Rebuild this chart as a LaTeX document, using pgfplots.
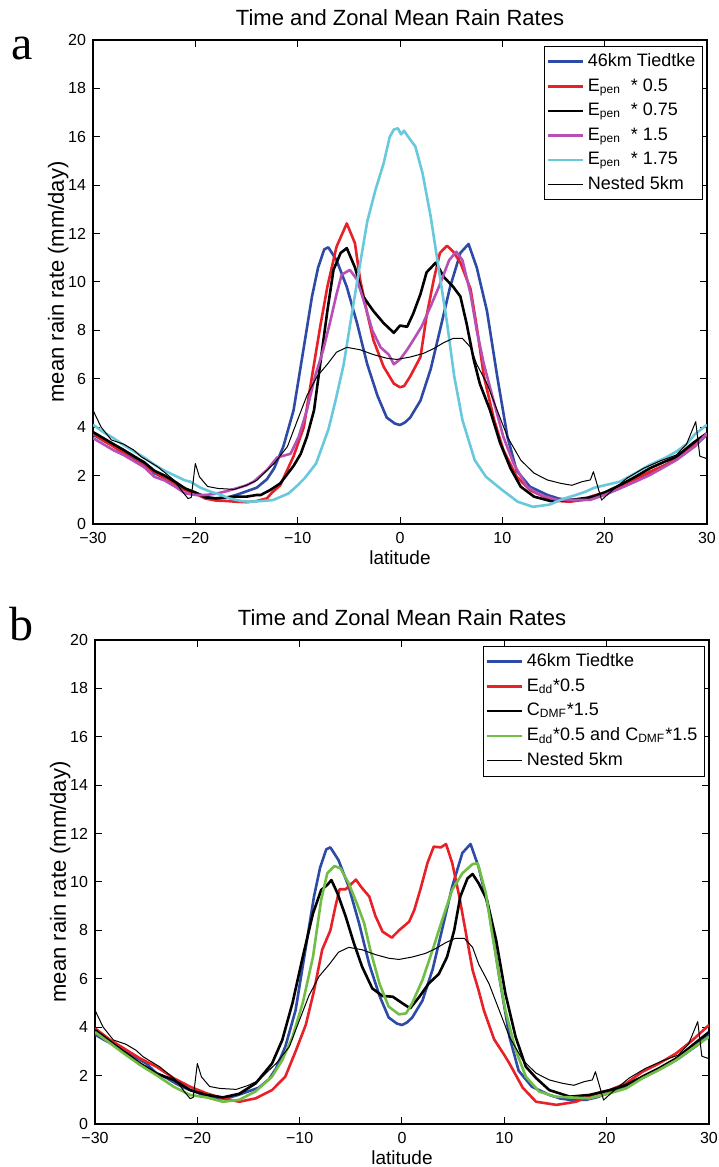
\documentclass[border=0pt]{standalone}
\usepackage{fontspec}
\setmainfont{Liberation Sans}
\newfontfamily\seriffont{Liberation Serif}
\usepackage{pgfplots}
\pgfplotsset{compat=1.18}
\definecolor{cblue}{RGB}{44,74,166}
\definecolor{cred}{RGB}{232,32,40}
\definecolor{cmag}{RGB}{184,80,180}
\definecolor{ccyan}{RGB}{104,200,220}
\definecolor{cgreen}{RGB}{112,190,68}
\pgfplotsset{
 rainax/.style={
  scale only axis, width=307pt, height=242pt,
  xmin=-30, xmax=30, ymin=0, ymax=20,
  xtick={-30,-20,...,30}, xticklabels={−30,−20,−10,0,10,20,30},
  ytick={0,2,...,20},
  tick align=inside, major tick length=3.5pt, tick pos=both,
  every tick/.style={black, line width=0.5pt},
  axis line style={line width=0.6pt},
  tick label style={font=\fontsize{8}{9}\selectfont},
  xticklabel style={yshift=-0.5pt},
  /pgf/number format/assume math mode=true,
  xlabel style={font=\fontsize{9.5}{11}\selectfont, yshift=3pt},
  ylabel style={font=\fontsize{11}{12}\selectfont},
  ylabel shift=-7pt,
  xlabel=latitude, ylabel={mean rain rate (mm/day)},
  title={Time and Zonal Mean Rain Rates},
  title style={font=\fontsize{11}{12}\selectfont, yshift=-2.3pt},
  legend style={at={(0.993,0.987)}, anchor=north east, draw=black, font=\fontsize{9}{10}\selectfont, inner sep=1.5pt, row sep=0.5pt},
  legend cell align=left,
  every axis plot/.append style={line join=round},
 },
 thk/.style={line width=1.3pt},
 thn/.style={line width=0.5pt, black},
}
\begin{document}
\begin{tikzpicture}[x=1pt,y=1pt]
\useasboundingbox (0,0) rectangle (359,583.5);
% ---------------- panel a
\begin{axis}[rainax, at={(46.5pt,321.5pt)}, anchor=south west]
\addplot[thk, cblue] coordinates {(-30,3.7)(-29,3.45)(-28,3.25)(-27,3.0)(-26,2.75)(-25,2.5)(-24,2.1)(-23,1.9)(-22,1.65)(-21,1.45)(-20,1.3)(-19,1.12)(-18,1.05)(-17,1.08)(-16,1.2)(-15,1.35)(-14,1.5)(-13,1.85)(-12.3,2.3)(-11.4,3.2)(-10.4,4.7)(-9.4,7.3)(-8.6,9.4)(-8.0,10.6)(-7.4,11.35)(-7.0,11.43)(-6.2,10.9)(-5.2,9.8)(-4.2,8.3)(-3.2,6.6)(-2.2,5.3)(-1.3,4.4)(-0.5,4.15)(0,4.09)(0.5,4.2)(1,4.4)(2,5.1)(3,6.4)(3.9,8.0)(4.9,9.8)(5.9,11.2)(6.7,11.57)(7.5,10.6)(8.5,8.8)(9.5,6.1)(10.5,3.6)(11.4,2.2)(12.7,1.54)(14.4,1.2)(15.5,1.05)(16.6,0.99)(18,1.0)(19,1.1)(20,1.25)(21.5,1.5)(23,1.8)(24.4,2.1)(26,2.45)(27,2.7)(28,3.0)(29,3.3)(30,3.7)};
\addlegendentry{46km Tiedtke}
\addplot[thk, cred] coordinates {(-30,3.75)(-29,3.45)(-28,3.2)(-27,2.92)(-26,2.65)(-25,2.4)(-24,2.15)(-23,1.9)(-22,1.65)(-21,1.4)(-20,1.25)(-19,1.05)(-18,0.97)(-17,0.95)(-16,0.92)(-15,0.9)(-14,0.95)(-13,1.06)(-12.5,1.3)(-11.7,1.6)(-10.4,2.8)(-9.4,4.0)(-8.6,6.1)(-7.8,8.15)(-7.1,9.8)(-6.2,11.46)(-5.2,12.42)(-4.4,11.6)(-3.9,10.1)(-3.2,8.7)(-2.6,7.6)(-1.6,6.5)(-0.6,5.8)(0,5.65)(0.4,5.7)(1,6.1)(2,6.9)(2.6,8.6)(3.3,10.1)(3.9,11.2)(4.6,11.5)(5.2,11.25)(5.9,10.8)(6.9,9.7)(7.5,8.15)(8.2,6.1)(9.2,4.3)(10.1,3.06)(11.4,1.96)(12.7,1.4)(14.4,1.06)(15.5,0.95)(16.6,0.92)(18,1.0)(18.6,1.13)(20,1.3)(21.5,1.54)(23,1.85)(24.4,2.16)(26,2.45)(27,2.71)(28,3.0)(28.8,3.3)(30,3.7)};
\addlegendentry{E\textsubscript{pen}\ \ * 0.5}
\addplot[thk, black] coordinates {(-30,3.8)(-29,3.55)(-28,3.3)(-27,3.06)(-26,2.8)(-25,2.55)(-24,2.2)(-23,2.0)(-22,1.75)(-21,1.47)(-20,1.3)(-19,1.1)(-18,1.06)(-17,1.1)(-16,1.13)(-15,1.13)(-14,1.2)(-13.6,1.2)(-12.7,1.4)(-11.7,1.68)(-10.4,2.4)(-9.7,2.9)(-9.1,3.6)(-8.4,4.7)(-7.8,6.6)(-7.1,8.8)(-6.5,10.5)(-5.8,11.2)(-5.2,11.4)(-4.4,10.6)(-3.6,9.4)(-2.6,8.8)(-1.6,8.3)(-0.6,7.9)(0,8.2)(0.7,8.15)(1.3,8.7)(2,9.5)(2.6,10.4)(3.5,10.8)(4.3,10.2)(5.2,9.8)(5.9,9.4)(6.5,8.3)(7.2,6.8)(7.8,5.8)(8.8,4.7)(9.8,3.33)(10.8,2.3)(11.8,1.54)(13.1,1.13)(14.7,0.95)(16.6,0.99)(18.6,1.1)(20,1.3)(21.5,1.61)(23,1.95)(24.4,2.3)(26,2.6)(27,2.78)(28.8,3.4)(30,3.75)};
\addlegendentry{E\textsubscript{pen}\ \ * 0.75}
\addplot[thk, cmag] coordinates {(-30,3.55)(-29,3.3)(-28,3.05)(-27,2.85)(-26,2.6)(-25,2.35)(-24,1.95)(-23,1.8)(-22,1.55)(-21,1.27)(-20,1.2)(-19,1.2)(-18,1.25)(-17,1.35)(-16,1.47)(-15,1.6)(-14.3,1.75)(-13,2.23)(-12,2.75)(-10.7,2.9)(-9.9,3.6)(-9.1,4.7)(-8.3,6.1)(-7.5,7.2)(-6.8,8.4)(-6.2,9.5)(-5.7,10.3)(-4.9,10.5)(-4.2,10.1)(-3.6,9.3)(-2.7,8.0)(-1.9,7.3)(-1.1,7.0)(-0.6,6.6)(0,6.8)(0.7,7.2)(1.3,7.6)(2.1,8.15)(3,9.0)(3.9,9.9)(4.8,10.9)(5.5,11.25)(6.1,10.9)(6.9,9.5)(7.5,8.0)(8.2,6.6)(9.2,5.0)(10.1,3.6)(11.1,2.5)(12.4,1.54)(13.7,1.2)(15.3,1.0)(16.6,0.99)(18.6,1.0)(20,1.2)(21.5,1.47)(23,1.75)(24.4,2.02)(26,2.4)(27,2.64)(28.8,3.2)(30,3.75)};
\addlegendentry{E\textsubscript{pen}\ \ * 1.5}
\addplot[thk, ccyan] coordinates {(-30,4.1)(-29,3.8)(-28,3.55)(-27,3.26)(-26,3.0)(-25,2.75)(-24,2.45)(-23,2.2)(-22,2.0)(-21,1.8)(-20.5,1.75)(-19.5,1.5)(-18.6,1.35)(-17.5,1.2)(-16.7,1.06)(-15.5,0.95)(-14.7,0.92)(-13.5,0.95)(-12.4,0.99)(-10.9,1.26)(-10,1.6)(-9.3,1.9)(-8.2,2.5)(-7.0,3.9)(-6.3,5.1)(-5.5,6.6)(-4.7,8.7)(-3.9,10.75)(-3.2,12.5)(-2.4,13.8)(-1.6,14.9)(-1.0,16.0)(-0.6,16.3)(-0.2,16.35)(0.1,16.1)(0.4,16.25)(0.8,16.0)(1.5,15.6)(2.2,14.5)(3.0,12.7)(3.8,10.5)(4.6,8.3)(5.3,6.1)(6.1,4.3)(7.3,2.64)(8.4,1.95)(10,1.4)(11.5,0.92)(13,0.71)(14.6,0.8)(16.1,1.06)(17.2,1.2)(18.1,1.33)(19,1.5)(20,1.6)(21.5,1.75)(23,2.1)(24.4,2.44)(26,2.75)(27,2.99)(28,3.3)(28.8,3.7)(30,4.1)};
\addlegendentry{E\textsubscript{pen}\ \ * 1.75}
\addplot[thn] coordinates {(-30,4.7)(-29.2,4.0)(-28.2,3.47)(-27,3.3)(-26,3.05)(-25.3,2.78)(-23.7,2.37)(-22.1,1.82)(-21.2,1.3)(-20.7,1.05)(-20.4,1.1)(-20.0,2.5)(-19.6,1.95)(-18.8,1.55)(-17.8,1.47)(-16.2,1.43)(-15,1.6)(-14,1.8)(-13.3,2.1)(-12.3,2.5)(-11,3.2)(-10.1,4.2)(-9.1,5.3)(-8.1,6.1)(-7.1,6.6)(-6.2,7.1)(-5.2,7.3)(-3.9,7.2)(-2.6,7.0)(-1.3,6.85)(-0.3,6.8)(1,6.9)(2.3,7.05)(3.3,7.25)(4.3,7.5)(5.2,7.67)(6.1,7.67)(6.9,7.3)(7.5,6.6)(8.5,5.8)(9.5,4.7)(10.5,3.6)(11.8,2.64)(13.1,2.1)(14.4,1.82)(15.7,1.68)(16.8,1.6)(17.8,1.75)(18.6,1.82)(18.9,2.16)(19.7,0.99)(20.5,1.3)(22.2,1.9)(23.8,2.3)(25.4,2.6)(27.0,2.85)(28.0,3.3)(28.9,4.23)(29.3,2.8)(30,2.7)};
\addlegendentry{Nested 5km}
\end{axis}
% ---------------- panel b
\begin{axis}[rainax, at={(47.5pt,21.5pt)}, anchor=south west]
\addplot[thk, cblue] coordinates {(-30,3.7)(-29,3.45)(-28,3.25)(-27,3.0)(-26,2.75)(-25,2.5)(-24,2.1)(-23,1.9)(-22,1.65)(-21,1.45)(-20,1.3)(-19,1.12)(-18,1.05)(-17,1.08)(-16,1.2)(-15,1.35)(-14,1.5)(-13,1.85)(-12.3,2.3)(-11.4,3.2)(-10.4,4.7)(-9.4,7.3)(-8.6,9.4)(-8.0,10.6)(-7.4,11.35)(-7.0,11.43)(-6.2,10.9)(-5.2,9.8)(-4.2,8.3)(-3.2,6.6)(-2.2,5.3)(-1.3,4.4)(-0.5,4.15)(0,4.09)(0.5,4.2)(1,4.4)(2,5.1)(3,6.4)(3.9,8.0)(4.9,9.8)(5.9,11.2)(6.7,11.57)(7.5,10.6)(8.5,8.8)(9.5,6.1)(10.5,3.6)(11.4,2.2)(12.7,1.54)(14.4,1.2)(15.5,1.05)(16.6,0.99)(18,1.0)(19,1.1)(20,1.25)(21.5,1.5)(23,1.8)(24.4,2.1)(26,2.45)(27,2.7)(28,3.0)(29,3.3)(30,3.7)};
\addlegendentry{46km Tiedtke}
\addplot[thk, cred] coordinates {(-30,3.95)(-28.5,3.47)(-27.2,3.13)(-25.6,2.71)(-24,2.37)(-22.3,1.89)(-20.7,1.54)(-19.1,1.27)(-17.5,1.06)(-15.9,0.92)(-14.3,1.06)(-12.7,1.4)(-11.4,1.96)(-10.4,3.0)(-9.4,4.1)(-8.6,5.5)(-7.8,7.2)(-7.0,8.0)(-6.5,9.0)(-6.1,9.7)(-5.5,9.7)(-4.5,10.1)(-4.0,9.8)(-3.2,9.4)(-2.6,8.6)(-1.9,7.95)(-1.0,7.7)(-0.3,8.0)(0.7,8.36)(1.2,8.84)(1.8,9.7)(2.5,10.8)(3.1,11.46)(3.8,11.43)(4.3,11.57)(4.9,10.8)(5.6,9.4)(6.2,8.0)(6.9,6.36)(7.5,5.5)(8.0,4.7)(9.0,3.5)(10,2.85)(10.5,2.5)(11.8,1.5)(13.1,0.92)(15.1,0.79)(17,0.92)(18.6,1.2)(20.3,1.4)(21.9,1.68)(23.5,2.16)(25.1,2.5)(26.8,2.92)(28.4,3.47)(30,4.09)};
\addlegendentry{E\textsubscript{dd}*0.5}
\addplot[thk, black] coordinates {(-30,3.88)(-28.5,3.4)(-27.2,2.99)(-25.6,2.5)(-24,2.09)(-22.3,1.82)(-20.7,1.4)(-19.1,1.2)(-17.5,1.1)(-15.9,1.25)(-14.3,1.68)(-12.7,2.5)(-11.7,3.47)(-10.7,5.0)(-9.7,6.9)(-8.7,8.7)(-7.9,9.67)(-7.3,9.88)(-6.9,10.08)(-6.3,9.53)(-5.5,8.57)(-4.7,7.47)(-3.9,6.5)(-2.9,5.6)(-1.9,5.29)(-0.9,5.26)(0,5.0)(0.8,4.78)(1.7,5.26)(2.6,5.8)(3.6,6.2)(4.4,6.9)(5.1,8.0)(5.7,9.4)(6.4,10.15)(6.9,10.33)(7.5,9.94)(8.3,9.26)(9.2,7.6)(10.1,5.4)(11.1,3.6)(12.1,2.37)(13.1,1.9)(14.4,1.4)(16.4,1.13)(18.3,1.2)(20.3,1.4)(21.9,1.61)(23.5,1.96)(25.1,2.3)(26.8,2.71)(28.4,3.26)(30,3.8)};
\addlegendentry{C\textsubscript{DMF}*1.5}
\addplot[thk, cgreen] coordinates {(-30,3.8)(-28.5,3.33)(-27.2,2.92)(-25.6,2.44)(-24,2.02)(-22.3,1.54)(-20.7,1.2)(-19.1,1.1)(-17.5,0.92)(-15.9,1.0)(-14.3,1.35)(-12.7,1.96)(-11.7,2.64)(-10.7,3.6)(-9.7,5.0)(-8.7,6.9)(-7.9,9.26)(-7.3,10.36)(-6.6,10.66)(-6.0,10.56)(-5.2,9.94)(-4.4,9.1)(-3.7,8.3)(-3.1,7.2)(-2.2,5.8)(-1.3,4.85)(-0.3,4.53)(0.4,4.57)(1.0,5.0)(2.0,5.95)(3.0,7.2)(3.9,8.4)(4.9,9.67)(5.9,10.36)(6.9,10.74)(7.4,10.77)(8.2,9.53)(8.8,7.9)(9.5,6.1)(10.1,4.7)(11.1,3.06)(12.1,1.96)(13.4,1.34)(15,1.13)(16.4,1.1)(18.3,1.06)(20.3,1.27)(21.9,1.47)(23.5,1.89)(25.1,2.23)(26.8,2.64)(28.4,3.13)(30,3.6)};
\addlegendentry{E\textsubscript{dd}*0.5 and C\textsubscript{DMF}*1.5}
\addplot[thn] coordinates {(-30,4.7)(-29.2,4.0)(-28.2,3.47)(-27,3.3)(-26,3.05)(-25.3,2.78)(-23.7,2.37)(-22.1,1.82)(-21.2,1.3)(-20.7,1.05)(-20.4,1.1)(-20.0,2.5)(-19.6,1.95)(-18.8,1.55)(-17.8,1.47)(-16.2,1.43)(-15,1.6)(-14,1.8)(-13.3,2.1)(-12.3,2.5)(-11,3.2)(-10.1,4.2)(-9.1,5.3)(-8.1,6.1)(-7.1,6.6)(-6.2,7.1)(-5.2,7.3)(-3.9,7.2)(-2.6,7.0)(-1.3,6.85)(-0.3,6.8)(1,6.9)(2.3,7.05)(3.3,7.25)(4.3,7.5)(5.2,7.67)(6.1,7.67)(6.9,7.3)(7.5,6.6)(8.5,5.8)(9.5,4.7)(10.5,3.6)(11.8,2.64)(13.1,2.1)(14.4,1.82)(15.7,1.68)(16.8,1.6)(17.8,1.75)(18.6,1.82)(18.9,2.16)(19.7,0.99)(20.5,1.3)(22.2,1.9)(23.8,2.3)(25.4,2.6)(27.0,2.85)(28.0,3.3)(28.9,4.23)(29.3,2.8)(30,2.7)};
\addlegendentry{Nested 5km}
\end{axis}
\node[font=\seriffont\fontsize{24}{26}\selectfont] at (11,559.5) {a};
\node[font=\seriffont\fontsize{24}{26}\selectfont] at (11,271.5) {b};
\end{tikzpicture}
\end{document}
